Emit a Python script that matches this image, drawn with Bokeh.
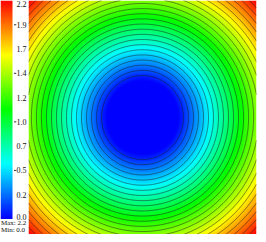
import numpy as np
from bokeh.plotting import figure
from bokeh.models import LinearColorMapper
from bokeh.layouts import row
from bokeh.core.properties import value
from bokeh.embed import file_html
from bokeh.resources import INLINE

# ---- data -----------------------------------------------------------
# colour table: position in [0, 1] and colour
cmap_pos = [0.0, 0.25, 0.5, 0.75, 1.0]
cmap_hex = ["#0000ff", "#00ffff", "#00ff00", "#ffff00", "#ff0000"]

v_min = 0.0
v_max = 2.16
tick_labels = ["0.0", "0.2", "0.5", "0.7", "1.0", "1.2", "1.4", "1.7", "1.9", "2.2"]
tick_marked = [False, False, True, False, True, False, True, False, True, False]
legend_lines = ["Max: 2.2", "Min: 0.0"]

# field: flat core at the centre, value rising linearly with distance outside it
core_radius = 0.315
n_levels = 25

# ---- build ----------------------------------------------------------
def hex2rgb(h):
    return [int(h[i:i + 2], 16) for i in (1, 3, 5)]

pos = np.array(cmap_pos)
rgb = np.array([hex2rgb(h) for h in cmap_hex], dtype=float)
tt = np.linspace(0, 1, 256)
palette = ["#%02x%02x%02x" % tuple(int(round(np.interp(t, pos, rgb[:, c]))) for c in range(3)) for t in tt]
mapper = LinearColorMapper(palette=palette, low=v_min, high=v_max)

n = 300
xs = np.linspace(-1, 1, n)
ys = np.linspace(-1, 1, n)
X, Y = np.meshgrid(xs, ys)
R = np.hypot(X, Y)
slope = v_max / (np.sqrt(2) - core_radius)
Z = np.clip(slope * (R - core_radius), v_min, v_max)
levels = [v_max * i / n_levels for i in range(1, n_levels)]

H = 234
p = figure(width=230, height=H, x_range=(-1, 1), y_range=(-1, 1),
           x_axis_type=None, y_axis_type=None, toolbar_location=None,
           output_backend="svg", min_border=0, min_border_right=2,
           outline_line_color=None)
p.image(image=[Z], x=-1, y=-1, dw=2, dh=2, color_mapper=mapper)
p.contour(xs, ys, Z, levels, line_color="#1e1e1e", line_width=0.9, line_alpha=0.6)

# ---- legend (colour bar) -------------------------------------------
bar_bottom = 15.5
bar_h = H - bar_bottom
leg = figure(width=28, height=H, x_range=(0, 28), y_range=(0, H),
             x_axis_type=None, y_axis_type=None, toolbar_location=None,
             output_backend="svg", min_border=0, outline_line_color=None)
grad = np.linspace(v_min, v_max, 256).reshape(-1, 1)
leg.image(image=[grad], x=0, y=bar_bottom, dw=12, dh=bar_h, color_mapper=mapper)

tick_vals = [v_min + (v_max - v_min) * i / (len(tick_labels) - 1) for i in range(len(tick_labels))]
tick_y = [min(max(bar_bottom + (v - v_min) / (v_max - v_min) * bar_h, bar_bottom + 2), H - 3.5) for v in tick_vals]
leg.text(x=[16] * len(tick_labels), y=tick_y, text=tick_labels,
         text_font=value("Liberation Serif"), text_font_size="8px",
         text_baseline="middle", text_color="#111111")
my = [y for y, m in zip(tick_y, tick_marked) if m]
leg.segment(x0=[13.5] * len(my), y0=my, x1=[15.8] * len(my), y1=my,
            line_color="#333333", line_width=1)
leg.text(x=[0.5, 0.5], y=[11.5, 4.5], text=legend_lines,
         text_font=value("Liberation Serif"), text_font_size="7px",
         text_baseline="middle", text_color="#111111")

layout = row(leg, p)
open("out.html", "w").write(file_html(layout, INLINE))
